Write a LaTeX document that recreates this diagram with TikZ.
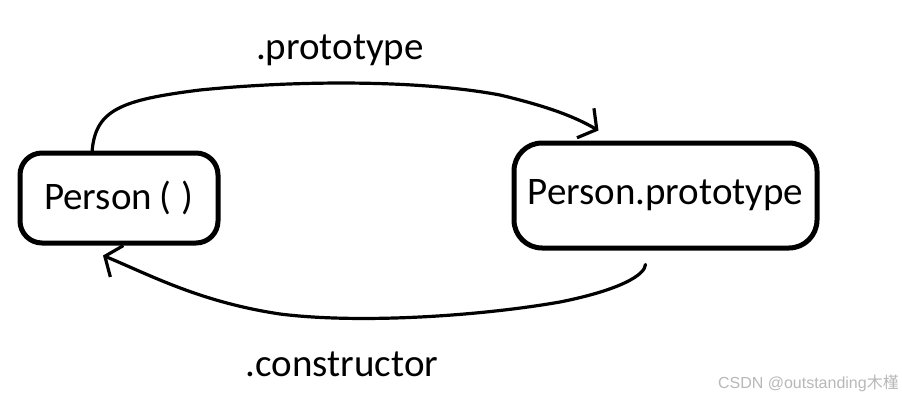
\documentclass[tikz,border=0pt]{standalone}
\usepackage{fontspec}
\setmainfont{Carlito}
\newfontfamily\cjkfont{Noto Sans CJK SC}
\newfontfamily\wmfont{Liberation Sans}
\usetikzlibrary{arrows.meta}
\tikzset{
  box/.style={draw=black, line width=5pt, rounded corners=22pt, inner sep=0pt, font=\fontsize{39}{44}\selectfont},
  link/.style={line width=3.2pt, line cap=round, line join=round, -{Straight Barb[length=13pt,width=34pt,line width=3.2pt]}},
  lab/.style={font=\fontsize{39}{44}\selectfont, inner sep=0pt},
}
\begin{document}
\begin{tikzpicture}[x=1pt,y=1pt]
\useasboundingbox (0,0) rectangle (902,400);
\fill[white] (0,0) rectangle (902,400);
\node[box, minimum width=198pt, minimum height=90pt] (p1) at (119,202) {\raisebox{-3pt}{Person\hspace{7pt}(\hspace{11pt})}};
\node[box, minimum width=303pt, minimum height=105pt, rounded corners=28pt] (p2) at (665.5,204.5) {Person.prototype};
\coordinate (s1) at ([xshift=-27pt,yshift=-2pt]p1.north);
\coordinate (t1) at ([xshift=-67pt,yshift=10pt]p2.north);
\coordinate (s2) at ([xshift=-20pt,yshift=-14pt]p2.south);
\coordinate (t2) at ([xshift=-16pt,yshift=-10pt]p1.south);
\draw[link] (s1) .. controls (95,290) and (120,300) .. (200,310)
  .. controls (300,320) and (420,320) .. (500,305)
  .. controls (550,293) and (575,283) .. (t1);
\draw[link] (s2) .. controls (645,125) and (620,110) .. (560,98)
  .. controls (480,84) and (360,76) .. (280,86)
  .. controls (200,98) and (150,125) .. (t2);
\node[lab] (l1) at (340,350) {.prototype};
\node[lab] (l2) at (342,36) {.constructor};
\node[font=\fontsize{16}{18}\selectfont, text=black!28, anchor=south east, inner sep=0pt] (wm) at (899,8) {\wmfont CSDN @outstanding\cjkfont 木槿};
\end{tikzpicture}
\end{document}
